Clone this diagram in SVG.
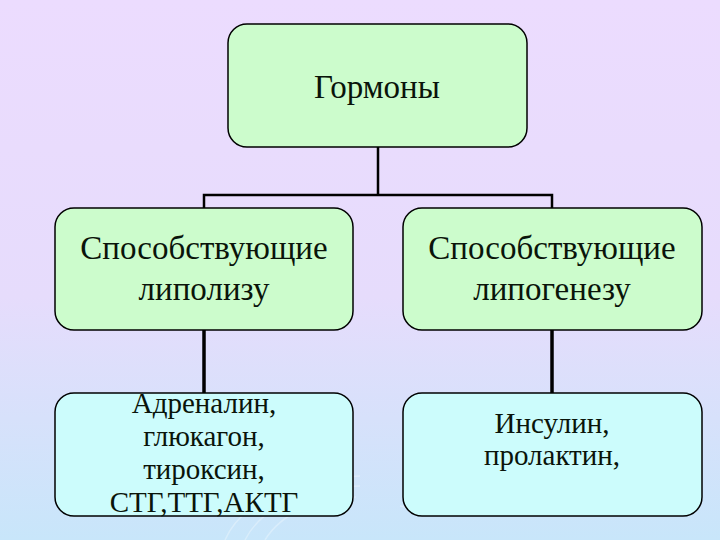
<svg xmlns="http://www.w3.org/2000/svg" width="720" height="540" viewBox="0 0 720 540">
<defs>
<linearGradient id="bg" x1="0" y1="0" x2="0" y2="1">
<stop offset="0" stop-color="#ecdcfe"/>
<stop offset="0.55" stop-color="#e6dcfc"/>
<stop offset="1" stop-color="#c8e6fa"/>
</linearGradient>
<style>
.box{stroke:#000;stroke-width:1.5}
.g{fill:#ccfccc}
.c{fill:#ccfcfc}
.t{font-family:'Liberation Serif','Times New Roman','DejaVu Serif',serif;fill:#0a140a;text-anchor:middle}
.conn{stroke:#000;fill:none;stroke-linecap:square}
.sw{fill:none;stroke:#ffffff;stroke-opacity:0.3;stroke-width:1.5}
</style>
</defs>
<rect width="720" height="540" fill="url(#bg)"/>
<g id="swirls">
<path class="sw" d="M225 540 C 240 505, 290 478, 360 476"/>
<path class="sw" d="M245 540 C 260 510, 300 488, 360 486"/>
<path class="sw" d="M265 540 C 280 515, 315 498, 356 497"/>
<path class="sw" d="M400 506 C 430 513, 470 514, 500 506"/>
</g>
<g id="connectors">
<path class="conn" stroke-width="2.5" d="M378 147 V195 M204 195 H552 M204 195 V208 M552 195 V208"/>
<path class="conn" stroke-width="3.5" d="M204 330 V393 M552 330 V393"/>
</g>
<g id="n-hormones">
<rect class="box g" x="228" y="24" width="299" height="123" rx="19"/>
<text class="t" x="377" y="98" font-size="33">Гормоны</text>
</g>
<g id="n-lipolysis">
<rect class="box g" x="55" y="208" width="298" height="122" rx="19"/>
<text class="t" x="204" y="259" font-size="33">Способствующие</text>
<text class="t" x="204" y="300" font-size="33">липолизу</text>
</g>
<g id="n-lipogenesis">
<rect class="box g" x="403" y="208" width="299" height="122" rx="19"/>
<text class="t" x="552" y="259" font-size="33">Способствующие</text>
<text class="t" x="552" y="300" font-size="33">липогенезу</text>
</g>
<g id="n-lipolytic">
<rect class="box c" x="55" y="393" width="298" height="123" rx="19"/>
<text class="t" x="204" y="413" font-size="29">Адреналин,</text>
<text class="t" x="204" y="446" font-size="29">глюкагон,</text>
<text class="t" x="204" y="479" font-size="29">тироксин,</text>
<text class="t" x="204" y="512" font-size="29">СТГ,ТТГ,АКТГ</text>
</g>
<g id="n-lipogenic">
<rect class="box c" x="403" y="393" width="299" height="123" rx="19"/>
<text class="t" x="552" y="433" font-size="29">Инсулин,</text>
<text class="t" x="552" y="465" font-size="29">пролактин,</text>
</g>
</svg>
